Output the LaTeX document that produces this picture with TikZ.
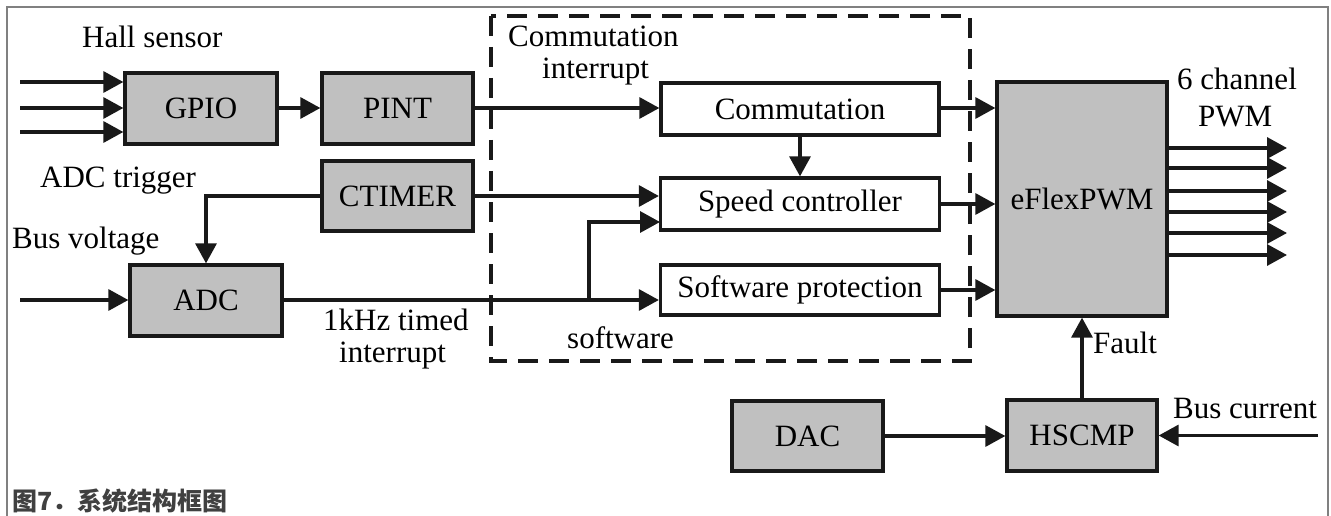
\documentclass[tikz,border=0pt]{standalone}
\usepackage{fontspec}
\setmainfont{Liberation Serif}
\newfontfamily\cjk{Noto Sans CJK SC}
\usetikzlibrary{arrows.meta,calc}
\begin{document}
\begin{tikzpicture}[x=1pt,y=-1pt,
  font=\fontsize{31}{35}\selectfont,
  hw/.style={draw=black!90,line width=3.3pt,fill=boxgray,inner sep=0pt},
  sw/.style={draw=black!90,line width=3.3pt,fill=white,inner sep=0pt},
  wire/.style={line width=3.3pt,draw=black!90},
  arr/.style={wire,-{Triangle[length=20pt,width=21pt]}},
  lbl/.style={inner sep=0pt,anchor=base west}]
\definecolor{boxgray}{HTML}{C0C0C0}
\useasboundingbox (0,0) rectangle (1331,516);
% outer frame
\draw[line width=1.6pt,color=black!50] (7,516) -- (7,7) -- (1328,7) -- (1328,516);

% software area
\draw[line width=3.3pt,draw=black!90,dash pattern=on 20pt off 11pt] (491,16) rectangle (970,361);

% hardware blocks
\node[hw,minimum width=152pt,minimum height=71pt] (gpio) at (201,108.5) {GPIO};
\node[hw,minimum width=151pt,minimum height=71pt] (pint) at (397.5,108.5) {PINT};
\node[hw,minimum width=151pt,minimum height=70pt] (ctimer) at (397.5,196) {CTIMER};
\node[hw,minimum width=152pt,minimum height=71pt] (adc) at (206,300.5) {ADC};
\node[hw,minimum width=170pt,minimum height=234pt] (eflex) at (1082,199) {eFlexPWM};
\node[hw,minimum width=151pt,minimum height=70pt] (dac) at (807.5,436) {DAC};
\node[hw,minimum width=150pt,minimum height=71pt] (hscmp) at (1082,435.5) {HSCMP};

% software blocks
\node[sw,minimum width=278pt,minimum height=52pt] (comm) at (800,109) {Commutation};
\node[sw,minimum width=279pt,minimum height=52pt] (speed) at (800,204) {Speed controller};
\node[sw,minimum width=279pt,minimum height=50pt] (swp) at (800,290) {Software protection};

% free ends
\coordinate (h1) at (20,82);
\coordinate (h2) at (20,108);
\coordinate (h3) at (20,132);
\coordinate (bv) at (20,300);
\coordinate (bc) at (1318,435.5);
\coordinate (br) at (589,300);
\coordinate (sp2) at (660,222);

% Hall sensor inputs
\draw[arr] (h1) -- (h1 -| gpio.west);
\draw[arr] (h2) -- (h2 -| gpio.west);
\draw[arr] (h3) -- (h3 -| gpio.west);
\draw[arr] (gpio.east |- h2) -- (pint.west |- h2);
\draw[arr] (pint.east |- h2) -- (h2 -| comm.west);

% timer paths
\draw[arr] (ctimer.east) -- (ctimer.east -| speed.west);
\draw[arr] (ctimer.west) -| (adc.north);

% ADC paths
\draw[arr] (bv) -- (bv -| adc.west);
\draw[arr] (adc.east |- bv) -- (bv -| swp.west);
\draw[arr] (br) |- (sp2);

% software to PWM
\draw[arr] (comm.south) -- (speed.north);
\draw[arr] (comm.east |- h2) -- (h2 -| eflex.west);
\draw[arr] (speed.east) -- (speed.east -| eflex.west);
\draw[arr] (swp.east) -- (swp.east -| eflex.west);

% PWM outputs
\foreach \y/\n in {148/1,168/2,191/3,212/4,233/5,255/6}{
  \coordinate (pwm\n) at (1287,\y);
  \draw[arr] (eflex.east |- pwm\n) -- (pwm\n);
}

% fault path
\draw[arr] (dac.east) -- (dac.east -| hscmp.west);
\draw[arr] (bc) -- (hscmp.east);
\draw[arr] (hscmp.north) -- (eflex.south);

% labels
\node[lbl] (l1) at (82,48) {Hall sensor};
\node[lbl] (l2) at (40,187) {ADC trigger};
\node[lbl] (l3) at (12,248) {Bus voltage};
\node[lbl] (l4) at (508,47) {Commutation};
\node[lbl] (l5) at (542,79) {interrupt};
\node[lbl] (l6) at (567,348) {software};
\node[lbl] (l7) at (323,330) {1kHz timed};
\node[lbl] (l8) at (339,362) {interrupt};
\node[lbl] (l9) at (1177,90) {6 channel};
\node[lbl] (l10) at (1198,127) {PWM};
\node[lbl] (l11) at (1093,353) {Fault};
\node[lbl] (l12) at (1173,418) {Bus current};

% caption
\node[lbl,text=black!75,font=\cjk\bfseries\fontsize{25}{28}\selectfont] (cap) at (12,510) {图7．系统结构框图};
\end{tikzpicture}
\end{document}
